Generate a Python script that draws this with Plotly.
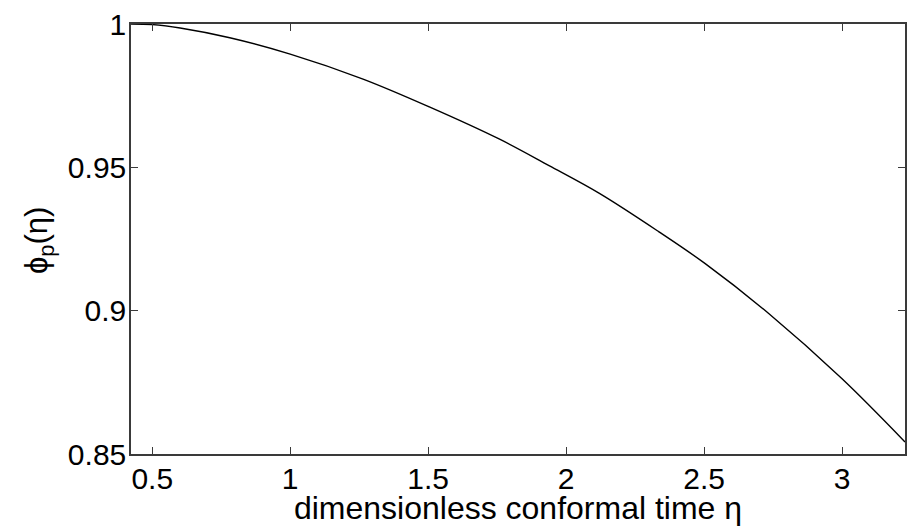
import plotly.graph_objects as go

# Conformal time samples and the corresponding phi_p values
eta = [0.423, 0.5, 0.601, 0.781, 1.0, 1.264, 1.504, 1.757, 1.938, 2.119, 2.335, 2.504, 2.733, 2.998, 3.228]
phi_p = [1.0, 0.9998, 0.9986, 0.9952, 0.9895, 0.9808, 0.9711, 0.9599, 0.9506, 0.9410, 0.9276, 0.9164, 0.8991, 0.8764, 0.8542]

x_ticks = [0.5, 1, 1.5, 2, 2.5, 3]
x_tick_text = ["0.5", "1", "1.5", "2", "2.5", "3"]
y_ticks = [0.85, 0.9, 0.95, 1.0]
y_tick_text = ["0.85", "0.9", "0.95", "1"]

FONT = "Liberation Sans, Arial, Helvetica, sans-serif"

fig = go.Figure(
    go.Scatter(
        x=eta,
        y=phi_p,
        mode="lines",
        line=dict(color="black", width=1.4, shape="spline", smoothing=1.0),
        showlegend=False,
    )
)

axis_common = dict(
    showline=True,
    linecolor="#3a3a3a",
    linewidth=1.5,
    mirror="ticks",
    ticks="inside",
    ticklen=7,
    tickwidth=1,
    tickcolor="#3a3a3a",
    showgrid=False,
    zeroline=False,
    tickfont=dict(family=FONT, size=30, color="black"),
)

fig.update_xaxes(
    range=[0.423, 3.228],
    tickvals=x_ticks,
    ticktext=x_tick_text,
    ticklabelstandoff=-3,
    title=dict(
        text="dimensionless conformal time η",
        font=dict(family=FONT, size=32, color="black"),
        standoff=2,
    ),
    **axis_common,
)
fig.update_yaxes(
    range=[0.85, 1.0],
    tickvals=y_ticks,
    ticktext=y_tick_text,
    ticklabelstandoff=-3,
    **axis_common,
)

# Rotated y-axis label
fig.add_annotation(
    text="ϕ<sub>p</sub>(η)",
    xref="paper", yref="paper",
    x=0, y=0.5,
    xanchor="center", yanchor="middle",
    xshift=-92, yshift=-2,
    textangle=-90,
    showarrow=False,
    font=dict(family=FONT, size=31, color="black"),
)

fig.update_layout(
    width=914,
    height=526,
    margin=dict(l=131, r=7, t=18, b=69),
    paper_bgcolor="white",
    plot_bgcolor="white",
)

fig.write_html("out.html")
